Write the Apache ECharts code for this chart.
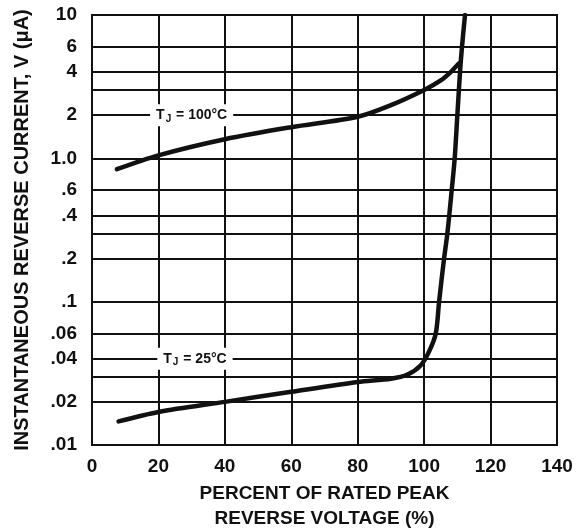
<!DOCTYPE html>
<html>
<head>
<meta charset="utf-8">
<script src="https://cdn.jsdelivr.net/npm/echarts@6/dist/echarts.min.js"></script>
<style>
  html, body { margin: 0; padding: 0; background: #fff; }
  #chart { width: 577px; height: 529px; }
</style>
</head>
<body>
<div id="chart"></div>
<script>
// reverse current vs percent of rated peak reverse voltage
const tj100 = [[7.5, 0.84], [20, 1.05], [40, 1.36], [60, 1.65], [80, 1.95], [90, 2.35], [100, 3.0], [105, 3.5], [108, 4.0], [110.5, 4.6]]
const tj25 = [[8, 0.0146], [20, 0.017], [40, 0.020], [60, 0.0235], [80, 0.0275], [90, 0.029], [95, 0.031], [99, 0.036],
  [101.5, 0.045], [103.5, 0.06], [104.5, 0.1], [106, 0.2], [107, 0.3], [108.3, 0.6], [109.2, 1.0], [110.0, 2], [110.8, 4], [111.4, 6], [112.3, 10]]
const decadeLabels = { '10': '10', '1': '1.0', '0.1': '.1', '0.01': '.01' }
const minorLines = [6, 4, 3, 2, 0.6, 0.4, 0.3, 0.2, 0.06, 0.04, 0.03, 0.02]
const minorLabels = { '6': '6', '4': '4', '2': '2', '0.6': '.6', '0.4': '.4', '0.2': '.2', '0.06': '.06', '0.04': '.04', '0.02': '.02' }
const curveLabels = [
  { x: 30, y: 2, text: 'T{sub|J} = 100°C' },
  { x: 31, y: 0.04, text: 'T{sub|J} = 25°C' }
]

const font = 'Liberation Sans, Arial, sans-serif'
const ink = '#111'

const chart = echarts.init(document.getElementById('chart'))
chart.setOption({
  animation: false,
  textStyle: { fontFamily: font },
  grid: {
    left: 92, right: 20, top: 15, bottom: 84,
    outerBoundsMode: 'none',
    show: true, borderColor: ink, borderWidth: 2
  },
  xAxis: {
    type: 'value',
    min: 0,
    max: 140,
    interval: 20,
    name: 'PERCENT OF RATED PEAK\nREVERSE VOLTAGE (%)',
    nameLocation: 'middle',
    nameGap: 34,
    nameTextStyle: { color: ink, fontSize: 19, fontWeight: 'bold', lineHeight: 25, fontFamily: font },
    axisLine: { lineStyle: { color: ink, width: 2 } },
    axisTick: { show: false },
    axisLabel: { color: ink, fontSize: 19, fontWeight: 'bold', margin: 12, fontFamily: font },
    splitLine: { lineStyle: { color: ink, width: 2 } }
  },
  yAxis: {
    type: 'log',
    logBase: 10,
    min: 0.01,
    max: 10,
    name: 'INSTANTANEOUS REVERSE CURRENT, V (μA)',
    nameLocation: 'middle',
    nameGap: 60,
    nameTextStyle: { color: ink, fontSize: 20, fontWeight: 'bold', fontFamily: font },
    axisLine: { lineStyle: { color: ink, width: 2 } },
    axisTick: { show: false },
    axisLabel: {
      color: ink,
      fontSize: 19,
      fontWeight: 'bold',
      margin: 15,
      fontFamily: font,
      formatter: v => decadeLabels[String(Number(v.toPrecision(3)))] || ''
    },
    splitLine: { lineStyle: { color: ink, width: 2 } }
  },
  series: [
    {
      name: 'TJ = 100°C',
      type: 'line',
      data: tj100,
      smooth: 0.3,
      symbol: 'none',
      z: 3,
      lineStyle: { color: ink, width: 4.5, cap: 'round' },
      markLine: {
        silent: true,
        z: 1,
        symbol: ['none', 'none'],
        animation: false,
        lineStyle: { color: ink, width: 2, type: 'solid' },
        label: { show: false },
        emphasis: { disabled: true },
        data: minorLines.map(v => {
          const t = minorLabels[String(v)]
          return {
            yAxis: v,
            label: t ? { show: true, position: 'start', distance: 15, formatter: t, color: ink, fontSize: 19, fontWeight: 'bold', fontFamily: font } : { show: false }
          }
        })
      },
      markPoint: {
        silent: true,
        z: 10,
        symbol: 'rect',
        symbolSize: 0,
        animation: false,
        data: curveLabels.map(c => ({
          coord: [c.x, c.y],
          label: {
            show: true,
            position: 'inside',
            formatter: c.text,
            color: ink,
            fontSize: 14,
            fontWeight: 'bold',
            fontFamily: font,
            backgroundColor: '#fff',
            padding: [2, 6],
            rich: { sub: { fontSize: 10, fontWeight: 'bold', verticalAlign: 'bottom', padding: [8, 1, 0, 1], color: ink } }
          }
        }))
      }
    },
    {
      name: 'TJ = 25°C',
      type: 'line',
      data: tj25,
      smooth: 0.3,
      symbol: 'none',
      z: 3,
      lineStyle: { color: ink, width: 4.5, cap: 'round' }
    }
  ]
})
</script>
</body>
</html>
